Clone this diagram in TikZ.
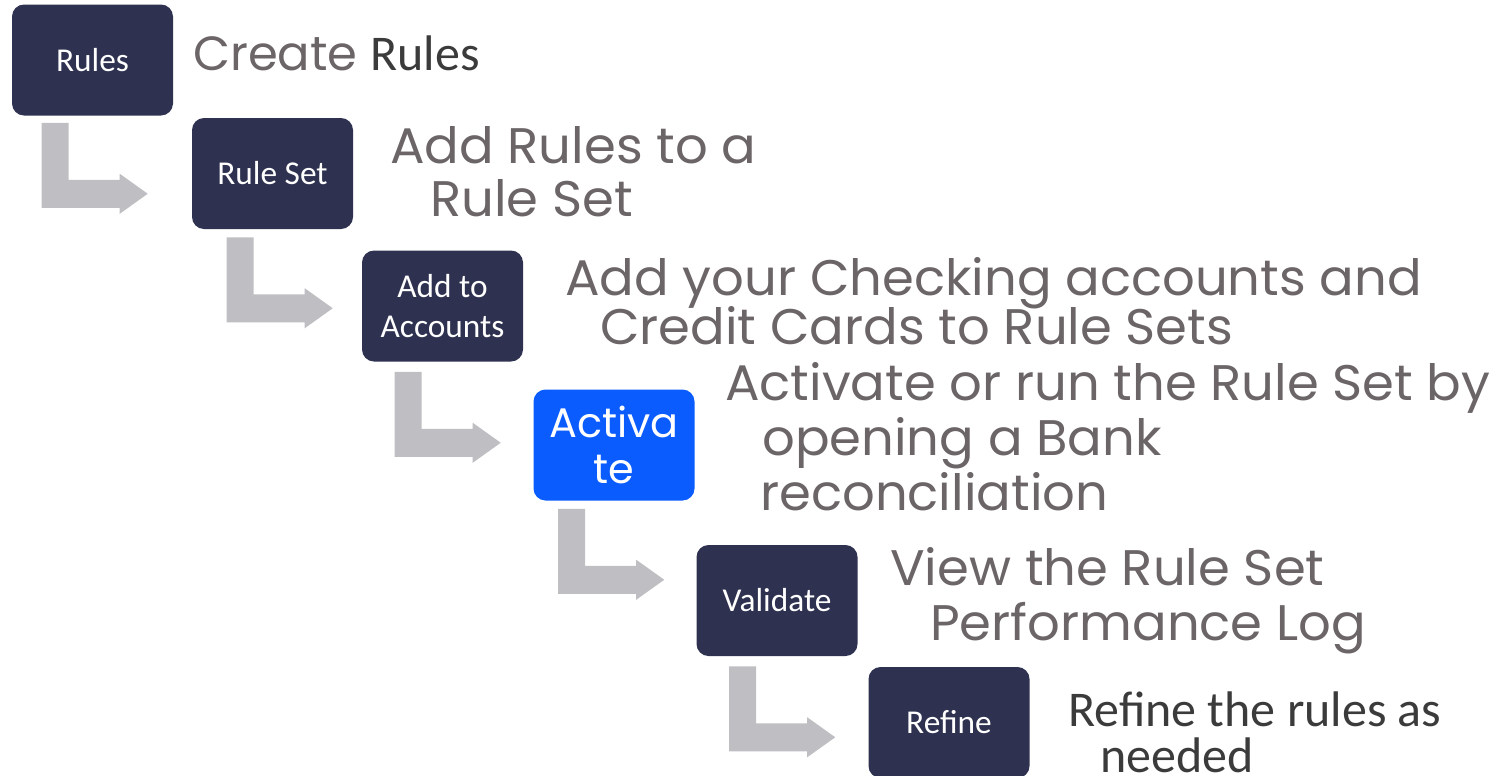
\documentclass[tikz,border=0pt]{standalone}
\usepackage{fontspec}
\usetikzlibrary{calc}
\newfontfamily\geofont{Poppins}
\newfontfamily\widegeofont[FakeStretch=1.025]{Poppins}
\newfontfamily\calfont{Carlito}
\definecolor{navy}{HTML}{2E3250}
\definecolor{bright}{HTML}{0A5CFF}
\definecolor{steel}{HTML}{6B6567}
\definecolor{ink}{HTML}{3B3B3B}
\definecolor{elbowgray}{HTML}{BFBFC3}

\tikzset{
  stepbox/.style={fill=navy, rounded corners=9pt, minimum width=120.75pt,
    minimum height=83.25pt, inner sep=0pt, text=white, align=center,
    font=\calfont\fontsize{25}{30}\selectfont},
  hotbox/.style={stepbox, fill=bright, font=\geofont\fontsize{31}{34.5}\selectfont},
  desc/.style={anchor=base west, inner sep=0pt, text=steel,
    font=\widegeofont\fontsize{37.5}{45}\selectfont},
  note/.style={anchor=base west, inner sep=0pt, text=ink,
    font=\calfont\fontsize{37.5}{45}\selectfont},
}

% L-shaped block arrow hanging below box #1 and pointing towards box #2;
% #3,#4 shift its top-left corner from the south-west corner of box #1
\newcommand\elbow[4]{%
  \fill[elbowgray] ($(#1.south west)+(#3,#4)$) -- ++(27,0) -- ++(0,57)
    -- ++(51,0) -- ++(0,-6) -- ++(28,20) -- ++(-28,20) -- ++(0,-6)
    -- ++(-78,0) -- cycle;}

\begin{document}
\begin{tikzpicture}[x=0.75pt,y=-0.75pt]
\useasboundingbox (0,0) rectangle (1507,775);

% process steps
\node[stepbox] (rules)    at (92.5,60)    {Rules};
\node[stepbox] (ruleset)  at (272.5,173.5){Rule Set};
\node[stepbox] (accounts) at (442.5,306)  {Add to\\Accounts};
\node[hotbox]  (activate) at (614,445)    {Activa\\te};
\node[stepbox] (validate) at (777,600.5)  {Validate};
\node[stepbox] (refine)   at (949,722.5)  {Refine};

% connecting arrows
\elbow{rules}{ruleset}{30}{7}
\elbow{ruleset}{accounts}{35}{8}
\elbow{accounts}{activate}{33}{10}
\elbow{activate}{validate}{25}{8}
\elbow{validate}{refine}{33}{10}

% descriptions
\node[desc, font=\geofont\fontsize{36}{43}\selectfont] (d1a) at (193,70.5) {Create};
\node[note] (d1b) at (370,70.5) {Rules};

\node[desc] (d2a) at (390,163) {Add Rules to a};
\node[desc] (d2b) at (430,216) {Rule Set};

\node[desc] (d3a) at (565,295) {Add your Checking accounts and};
\node[desc] (d3b) at (600,344) {Credit Cards to Rule Sets};

\node[desc] (d4a) at (725,400) {Activate or run the Rule Set by};
\node[desc] (d4b) at (762,455) {opening a Bank};
\node[desc] (d4c) at (760,510) {reconciliation};

\node[desc] (d5a) at (890,585) {View the Rule Set};
\node[desc] (d5b) at (930,640) {Performance Log};

\node[note] (d6a) at (1068,726) {Refine the rules as};
\node[note] (d6b) at (1100,772) {needed};
\end{tikzpicture}
\end{document}
